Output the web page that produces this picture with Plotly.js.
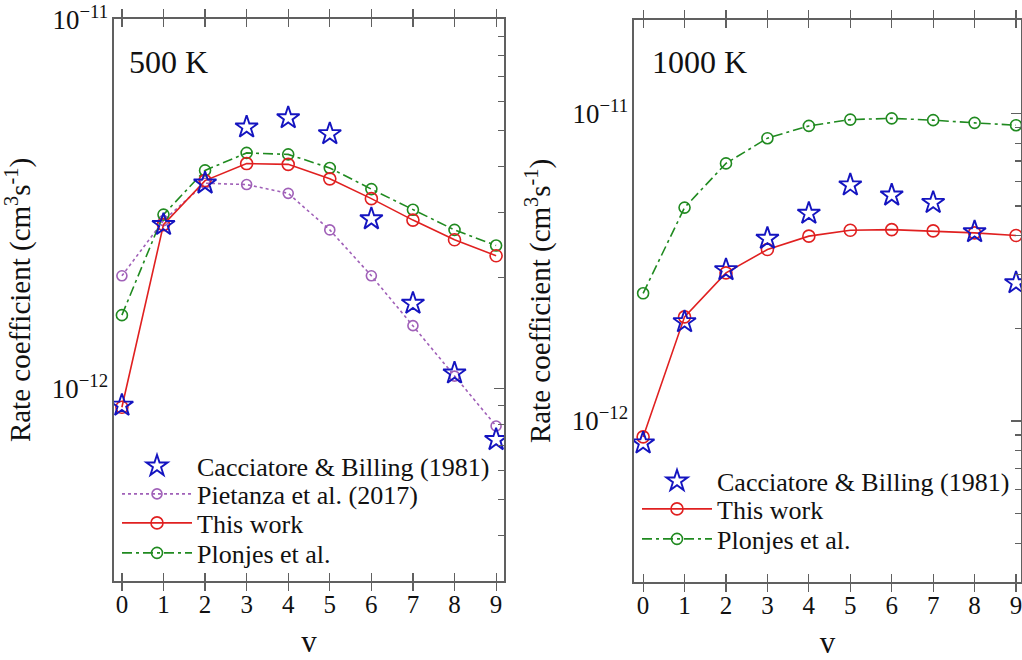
<!DOCTYPE html>
<html>
<head>
<meta charset="utf-8">
<script src="https://cdn.plot.ly/plotly-3.0.1.min.js"></script>
<style>html,body{margin:0;padding:0;background:#fff;}#chart{width:1022px;height:660px;}</style>
</head>
<body>
<div id="chart"></div>
<script>
// ---- Data ----
const v = [0, 1, 2, 3, 4, 5, 6, 7, 8, 9];
const xTickLabels = ['0','1','2','3','4','5','6','7','8','9'];

// 500 K
const cacciatore500 = [9.0e-13, 2.78e-12, 3.60e-12, 5.11e-12, 5.41e-12, 4.90e-12, 2.88e-12, 1.70e-12, 1.10e-12, 7.26e-13];
const pietanza500   = [2.02e-12, 2.85e-12, 3.60e-12, 3.57e-12, 3.38e-12, 2.69e-12, 2.02e-12, 1.48e-12, 1.08e-12, 7.91e-13];
const thisWork500   = [8.89e-13, 2.78e-12, 3.66e-12, 4.07e-12, 4.05e-12, 3.70e-12, 3.27e-12, 2.86e-12, 2.53e-12, 2.29e-12];
const plonjes500    = [1.58e-12, 2.96e-12, 3.90e-12, 4.35e-12, 4.31e-12, 3.96e-12, 3.47e-12, 3.05e-12, 2.69e-12, 2.44e-12];

// 1000 K
const cacciatore1000 = [8.47e-13, 2.10e-12, 3.10e-12, 3.92e-12, 4.73e-12, 5.85e-12, 5.42e-12, 5.13e-12, 4.12e-12, 2.81e-12];
const thisWork1000   = [8.87e-13, 2.18e-12, 3.03e-12, 3.61e-12, 3.99e-12, 4.17e-12, 4.19e-12, 4.15e-12, 4.09e-12, 4.01e-12];
const plonjes1000    = [2.60e-12, 4.94e-12, 6.88e-12, 8.31e-12, 9.11e-12, 9.55e-12, 9.64e-12, 9.51e-12, 9.32e-12, 9.16e-12];

const panelLabels = ['500 K', '1000 K'];
const seriesNames = ['Cacciatore & Billing (1981)', 'Pietanza et al. (2017)', 'This work', 'Plonjes et al.'];
const yTitle = 'Rate coefficient (cm<sup>3</sup>s<sup>-1</sup>)';
const xTitle = 'v';

// ---- Styles ----
const FONT = "'Liberation Serif', 'Times New Roman', Times, serif";
const BLUE = '#1414c0', PURPLE = '#a060b8', RED = '#e02020', GREEN = '#208a20';
const AX = '#606060';
const DASHDOT = '10px,4px,3px,4px';

function lineTrace(x, y, name, color, dash, msize, xa, ya, leg) {
  return {x, y, name, type: 'scatter', mode: 'lines+markers', xaxis: xa, yaxis: ya, legend: leg,
    line: {color, width: 1.6, dash},
    marker: {symbol: 'circle-open', size: msize, color, line: {width: 1.6, color}}};
}
function starTrace(x, y, name, xa, ya, leg) {
  return {x, y, name, type: 'scatter', mode: 'markers', xaxis: xa, yaxis: ya, legend: leg,
    marker: {symbol: 'star-open', size: 17, color: BLUE, line: {width: 1.9, color: BLUE}}};
}

// each legend row is its own legend box, so rows can sit as tight as in the reference
const traces = [
  lineTrace(v, pietanza500, seriesNames[1], PURPLE, 'dot', 10, 'x', 'y', 'legend2'),
  lineTrace(v, plonjes500, seriesNames[3], GREEN, DASHDOT, 11, 'x', 'y', 'legend4'),
  lineTrace(v, thisWork500, seriesNames[2], RED, 'solid', 12, 'x', 'y', 'legend3'),
  starTrace(v, cacciatore500, seriesNames[0], 'x', 'y', 'legend'),
  lineTrace(v, plonjes1000, seriesNames[3], GREEN, DASHDOT, 11, 'x2', 'y2', 'legend7'),
  lineTrace(v, thisWork1000, seriesNames[2], RED, 'solid', 12, 'x2', 'y2', 'legend6'),
  starTrace(v, cacciatore1000, seriesNames[0], 'x2', 'y2', 'legend5'),
];

const W = 1022, H = 660;
function px(a, b) { return [a / W, b / W]; }
function py(top, bottom) { return [(H - bottom) / H, (H - top) / H]; }

function xAxis(domain, range, anchor) {
  return {domain, range, anchor, tickmode: 'array', tickvals: v, ticktext: xTickLabels,
    ticks: 'inside', ticklen: 8, tickwidth: 1.2, tickcolor: AX, mirror: 'allticks',
    showline: true, linecolor: AX, linewidth: 1.6, showgrid: false, zeroline: false,
    ticklabeloverflow: 'allow',
    tickfont: {family: FONT, size: 25, color: '#111'},
    title: {text: xTitle, font: {family: FONT, size: 31, color: '#111'}, standoff: 14}};
}
function yAxis(domain, range, anchor) {
  return {domain, range, anchor, type: 'log', dtick: 1, exponentformat: 'power',
    ticks: '', showline: true, mirror: true, linecolor: AX, linewidth: 1.6, showgrid: false, zeroline: false,
    ticklabeloverflow: 'allow',
    tickfont: {family: FONT, size: 21.5, color: '#111'},
    title: {text: yTitle, font: {family: FONT, size: 29, color: '#111'}, standoff: 12}};
}
function yRight(domain, range, overlay, anchor) {
  return {domain, range, overlaying: overlay, anchor, side: 'right', type: 'log', dtick: 1,
    ticks: 'inside', ticklen: 10, tickwidth: 1.2, tickcolor: AX, showticklabels: false,
    showline: false, showgrid: false, zeroline: false,
    minor: {ticks: 'inside', ticklen: 6, tickwidth: 1.2, tickcolor: AX, showgrid: false}};
}

const xd1 = px(114, 504), yd1 = py(19, 581);
const xd2 = px(634, 1021), yd2 = py(20, 582);
const yr1 = [-12.522, -10.9985];
const yr2 = [-12.524, -10.696];

// dummy traces to activate right-side tick axes
traces.push({x: [null], y: [null], xaxis: 'x', yaxis: 'y3', showlegend: false, hoverinfo: 'skip'});
traces.push({x: [null], y: [null], xaxis: 'x2', yaxis: 'y4', showlegend: false, hoverinfo: 'skip'});

function leg(xPx, yPx) {
  return {x: xPx / W, y: (H - yPx) / H, xanchor: 'left', yanchor: 'middle', bgcolor: 'rgba(0,0,0,0)',
    font: {family: FONT, size: 26, color: '#111'}, itemwidth: 70, tracegroupgap: 0, borderwidth: 0};
}

const layout = {
  width: W, height: H, margin: {l: 0, r: 0, t: 0, b: 0},
  paper_bgcolor: '#fff', plot_bgcolor: '#fff',
  font: {family: FONT, color: '#111'},
  xaxis: xAxis(xd1, [-0.19, 9.19], 'y'),
  yaxis: yAxis(yd1, yr1, 'x'),
  xaxis2: xAxis(xd2, [-0.22, 9.12], 'y2'),
  yaxis2: yAxis(yd2, yr2, 'x2'),
  yaxis3: yRight(yd1, yr1, 'y', 'x'),
  yaxis4: yRight(yd2, yr2, 'y2', 'x2'),
  legend: leg(117, 466),
  legend2: leg(117, 494),
  legend3: leg(117, 523),
  legend4: leg(117, 553),
  legend5: leg(637, 481),
  legend6: leg(637, 509),
  legend7: leg(637, 539),
  annotations: [
    {text: panelLabels[0], xref: 'paper', yref: 'paper', x: 127 / W, y: (H - 62) / H, xanchor: 'left', yanchor: 'middle',
      showarrow: false, font: {family: FONT, size: 32, color: '#111'}},
    {text: panelLabels[1], xref: 'paper', yref: 'paper', x: 650 / W, y: (H - 62) / H, xanchor: 'left', yanchor: 'middle',
      showarrow: false, font: {family: FONT, size: 32, color: '#111'}}
  ],
  showlegend: true
};

Plotly.newPlot('chart', traces, layout, {staticPlot: true, displayModeBar: false});
</script>
</body>
</html>
